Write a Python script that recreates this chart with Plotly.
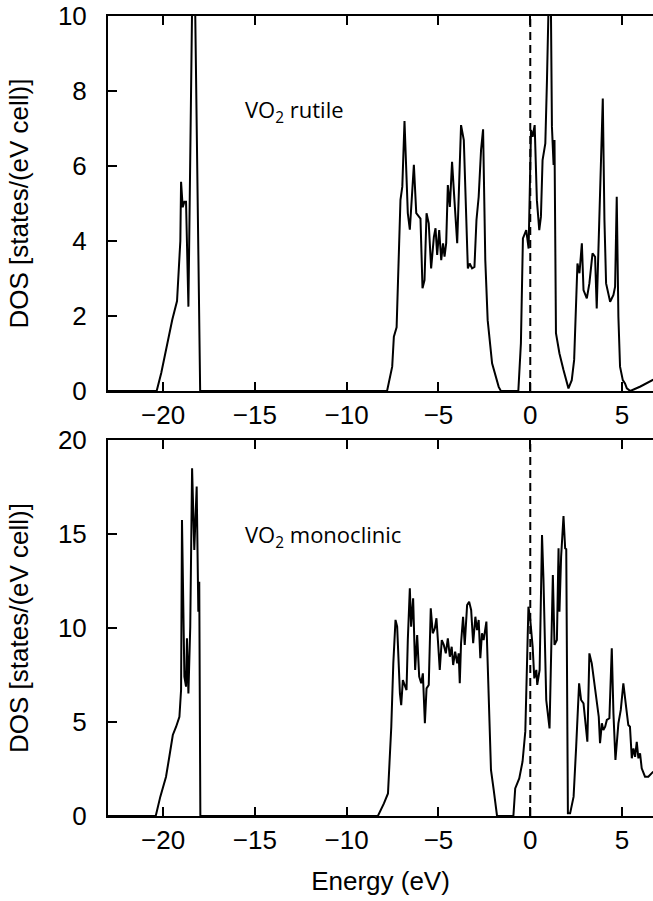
import plotly.graph_objects as go

# ---------------- data ----------------
energy_rutile = [-23, -20.35, -20.1, -19.5, -19.24, -19.06, -19.02, -18.93, -18.84, -18.75, -18.62, -18.35, -18.3, -17.98,
                 -7.8, -7.52, -7.43, -7.28, -7.07, -6.97, -6.85, -6.67, -6.56, -6.34, -6.21, -5.98, -5.87, -5.76, -5.65,
                 -5.53, -5.4, -5.25, -5.16, -5.07, -4.96, -4.85, -4.75, -4.67, -4.58, -4.49, -4.38, -4.26, -4.13, -3.98,
                 -3.77, -3.62, -3.4, -3.3, -3.17, -3.04, -2.93, -2.81, -2.68, -2.57, -2.45, -2.32, -2.08, -1.72, -1.6,
                 -0.65, -0.51, -0.4, -0.22, -0.09, 0.04, 0.13, 0.24, 0.36, 0.49, 0.58, 0.67, 0.82, 0.91, 1.05, 1.12,
                 1.18, 1.27, 1.32, 1.4, 1.59, 1.81, 2.08, 2.26, 2.39, 2.57, 2.68, 2.81, 2.9, 3.08, 3.22, 3.39, 3.53,
                 3.62, 3.8, 3.95, 4.04, 4.13, 4.35, 4.53, 4.62, 4.71, 4.8, 4.89, 5.04, 5.16, 5.26, 5.45, 6.0, 6.7]
dos_rutile = [0, 0, 0.48, 1.9, 2.4, 4.0, 5.58, 4.9, 5.05, 5.05, 2.25, 13.0, 12.0, 0,
              0, 0.65, 1.45, 1.7, 5.1, 5.45, 7.2, 4.74, 4.3, 6.03, 4.74, 4.6, 2.74, 2.96, 4.74,
              4.47, 3.27, 4.11, 4.34, 3.63, 4.29, 3.49, 3.94, 3.58, 3.94, 5.49, 4.91, 6.11, 5.09, 3.94,
              7.09, 6.69, 3.27, 3.4, 3.27, 3.31, 4.56, 5.18, 6.43, 6.98, 3.49, 1.89, 0.74, 0.11, 0,
              0, 1.27, 4.07, 4.29, 3.8, 6.96, 6.78, 7.09, 5.09, 4.29, 4.65, 6.16, 6.6, 8.29, 11.5, 10.5,
              7.05, 6.03, 6.69, 1.54, 1.0, 0.56, 0.07, 0.29, 0.83, 3.4, 3.14, 3.94, 2.69, 2.47, 2.87, 3.67, 3.58,
              2.2, 5.09, 7.8, 4.56, 2.87, 2.38, 2.56, 2.78, 5.18, 1.98, 0.65, 0.29, 0.2, 0.07, 0, 0.12, 0.3]

energy_mono = [-23, -20.4, -20.15, -19.84, -19.66, -19.47, -19.29, -19.11, -19.02, -18.97, -18.84, -18.75, -18.7,
               -18.62, -18.52, -18.42, -18.3, -18.17, -18.08, -18.03, -17.97,
               -8.3, -7.97, -7.75, -7.57, -7.46, -7.34, -7.25, -7.1, -7.03, -6.94, -6.83, -6.74, -6.67, -6.56,
               -6.49, -6.38, -6.27, -6.16, -6.05, -5.94, -5.85, -5.74, -5.65, -5.53, -5.42, -5.31, -5.2, -5.11,
               -5.02, -4.93, -4.82, -4.71, -4.6, -4.49, -4.38, -4.28, -4.2, -4.09, -3.98, -3.9, -3.84, -3.77,
               -3.66, -3.57, -3.44, -3.33, -3.22, -3.11, -2.99, -2.9, -2.81, -2.72, -2.63, -2.54, -2.39, -2.27,
               -2.14, -1.99, -1.81,
               -0.92, -0.82, -0.6, -0.42, -0.27, -0.18, -0.1, 0.0, 0.13, 0.22, 0.33, 0.38, 0.51, 0.64, 0.72,
               0.87, 1.05, 1.23, 1.32, 1.45, 1.54, 1.59, 1.68, 1.81, 1.9, 1.96, 2.05, 2.17, 2.36, 2.5, 2.66,
               2.77, 2.9, 3.11, 3.22, 3.35, 3.48, 3.62, 3.73, 3.8, 3.9, 3.98, 4.08, 4.17, 4.31, 4.44, 4.53,
               4.64, 4.8, 4.93, 5.07, 5.22, 5.34, 5.43, 5.53, 5.62, 5.71, 5.8, 5.89, 5.98, 6.07, 6.25, 6.43, 6.7]
dos_mono = [0, 0, 1.03, 2.09, 3.15, 4.31, 4.75, 5.28, 6.7, 15.74, 7.41, 6.88, 9.45,
            6.52, 10.07, 18.5, 14.15, 17.52, 10.87, 12.46, 0,
            0, 0.67, 1.2, 4.75, 8.12, 10.43, 10.07, 6.52, 5.9, 7.23, 6.88, 6.7, 9.36, 12.11,
            10.07, 11.58, 7.77, 9.63, 7.41, 7.06, 7.59, 4.93, 6.79, 6.97, 11.05, 9.72, 9.98, 10.52,
            9.19, 7.77, 9.36, 9.1, 8.65, 9.45, 8.47, 9.0, 8.03, 8.74, 8.12, 8.65, 7.06, 9.19,
            10.6, 9.1, 11.22, 11.4, 10.96, 9.19, 10.6, 9.89, 10.43, 8.39, 9.72, 9.36, 10.34, 6.35,
            2.45, 1.38, 0,
            0, 1.47, 2.0, 2.9, 4.5, 7.5, 11.13, 10.43, 9.0, 7.32, 7.77, 6.97, 7.77, 14.95, 12.55,
            6.17, 4.66, 12.82, 9.1, 9.36, 14.24, 10.87, 13.79, 15.96, 14.24, 14.19, 0.14, 0.14, 1.03, 3.69, 7.06,
            6.17, 5.99, 3.95, 8.65, 8.12, 7.06, 5.99, 5.28, 3.87, 4.93, 4.57, 4.75, 5.11, 5.2, 8.92, 5.46,
            2.98, 4.93, 5.64, 7.06, 5.81, 4.84, 4.75, 3.07, 3.6, 3.15, 3.95, 3.07, 3.33, 2.54, 2.09, 2.09, 2.36]

assert len(energy_rutile) == len(dos_rutile)
assert len(energy_mono) == len(dos_mono)

fermi_energy = 0
x_ticks = [-20, -15, -10, -5, 0, 5]
y_ticks_rutile = [0, 2, 4, 6, 8, 10]
y_ticks_mono = [0, 5, 10, 15, 20]
x_range = [-23, 6.685]
y_range_rutile = [0, 10]
y_range_mono = [0, 20]

# ---------------- figure ----------------
FONT = "Liberation Sans, Arial, sans-serif"
line_style = dict(color="black", width=2)

fig = go.Figure()
fig.add_trace(go.Scatter(x=energy_rutile, y=dos_rutile, mode="lines", line=line_style,
                         xaxis="x", yaxis="y", showlegend=False, hoverinfo="skip"))
fig.add_trace(go.Scatter(x=[fermi_energy, fermi_energy], y=y_range_rutile, mode="lines",
                         line=dict(color="black", width=2, dash="8px,5px"),
                         xaxis="x", yaxis="y", showlegend=False, hoverinfo="skip"))
fig.add_trace(go.Scatter(x=energy_mono, y=dos_mono, mode="lines", line=line_style,
                         xaxis="x2", yaxis="y2", showlegend=False, hoverinfo="skip"))
fig.add_trace(go.Scatter(x=[fermi_energy, fermi_energy], y=y_range_mono, mode="lines",
                         line=dict(color="black", width=2, dash="8px,5px"),
                         xaxis="x2", yaxis="y2", showlegend=False, hoverinfo="skip"))

xax = dict(range=x_range, tickvals=x_ticks, ticks="inside", ticklen=9, tickwidth=2, tickcolor="black",
           showline=True, linewidth=2, linecolor="black", mirror="ticks", showgrid=False, zeroline=False,
           automargin=False,
           tickfont=dict(family=FONT, size=26, color="black"), ticklabelstandoff=0)
yax = dict(ticks="inside", ticklen=9, tickwidth=2, tickcolor="black",
           showline=True, linewidth=2, linecolor="black", mirror=False, showgrid=False, zeroline=False,
           automargin=False,
           tickfont=dict(family=FONT, size=26, color="black"), ticklabelstandoff=14,
           title=dict(text="DOS [states/(eV cell)]", font=dict(family=FONT, size=26, color="black"), standoff=22))

fig.update_layout(
    width=653, height=901,
    margin=dict(l=108, r=0, t=16, b=85),
    paper_bgcolor="white", plot_bgcolor="white",
    xaxis=dict(**xax, anchor="y", domain=[0, 1]),
    yaxis=dict(**yax, range=y_range_rutile, tickvals=y_ticks_rutile, anchor="x", domain=[0.53125, 1]),
    xaxis2=dict(**xax, anchor="y2", domain=[0, 1],
                title=dict(text="Energy (eV)", font=dict(family=FONT, size=26, color="black"), standoff=18)),
    yaxis2=dict(**yax, range=y_range_mono, tickvals=y_ticks_mono, anchor="x2", domain=[0, 0.47]),
    annotations=[
        dict(text="VO<sub>2</sub> rutile", x=-15.63, y=7.48, xref="x", yref="y", xanchor="left",
             yanchor="middle", showarrow=False, font=dict(family="Open Sans", size=22, color="black")),
        dict(text="VO<sub>2</sub> monoclinic", x=-15.63, y=14.87, xref="x2", yref="y2", xanchor="left",
             yanchor="middle", showarrow=False, font=dict(family="Open Sans", size=22, color="black")),
    ],
)

fig.write_html("out.html", config={"displayModeBar": False, "staticPlot": True},
               post_script="document.body.style.margin='0';document.body.style.padding='0';")
